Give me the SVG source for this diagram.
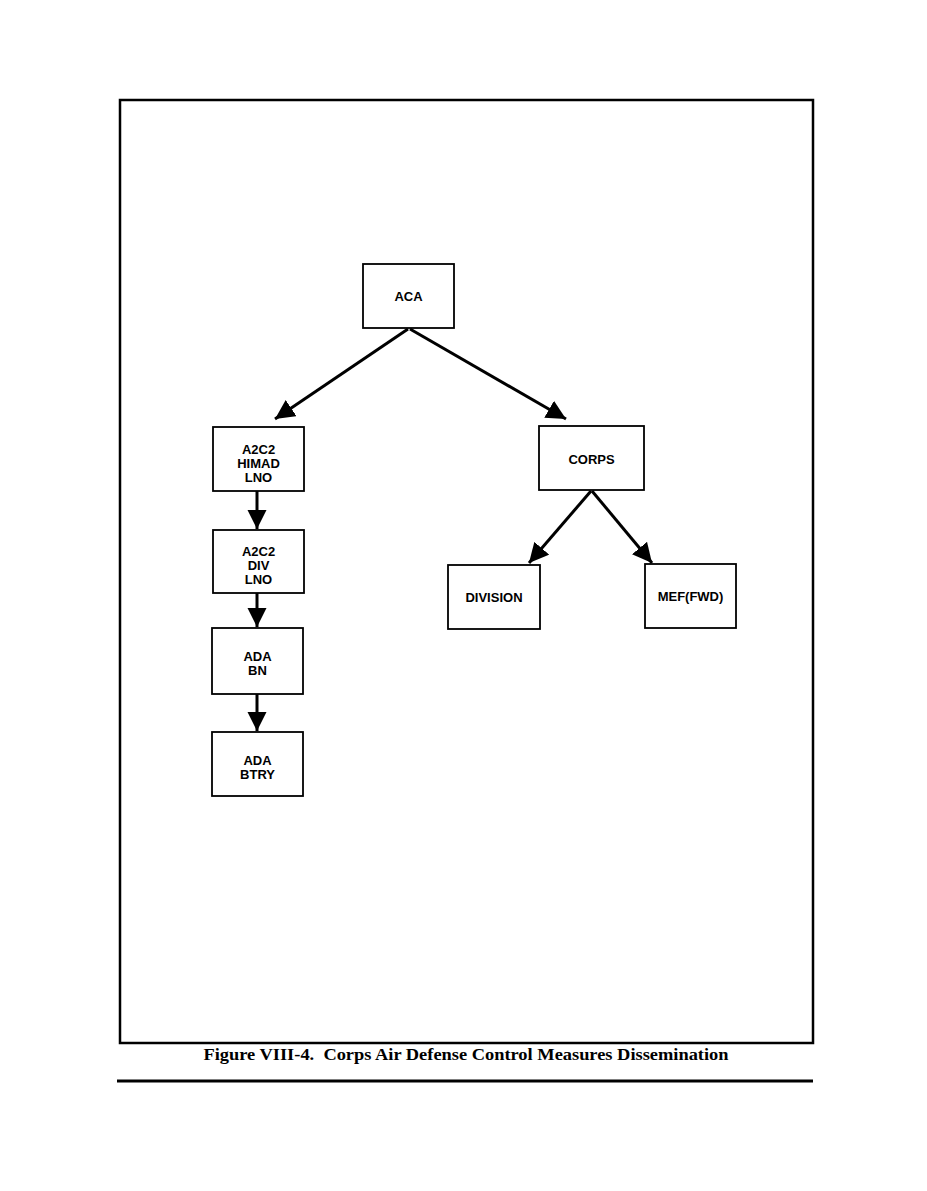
<svg xmlns="http://www.w3.org/2000/svg" width="927" height="1191" viewBox="0 0 927 1191">
<style>
.box{fill:#fff;stroke:#000;stroke-width:1.8}
.lbl{font-family:"Liberation Sans",Arial,sans-serif;font-weight:bold;font-size:13px;text-anchor:middle;fill:#000}
.con{stroke:#000;stroke-width:3;fill:none}
.cap{font-family:"Liberation Serif","Times New Roman",serif;font-weight:bold;font-size:16px;text-anchor:middle;fill:#000}
</style>
<defs>
<marker id="ah" viewBox="0 0 10 10" refX="10" refY="5" markerWidth="6.5" markerHeight="6.5" markerUnits="strokeWidth" orient="auto">
<path d="M0,0 L10,5 L0,10 z" fill="#000"/>
</marker>
</defs>
<rect width="927" height="1191" fill="#fff"/>
<rect x="120" y="100" width="693" height="943" fill="none" stroke="#000" stroke-width="2.5"/>
<g id="connectors">
<line class="con" x1="408" y1="329" x2="275" y2="419" marker-end="url(#ah)"/>
<line class="con" x1="410" y1="329" x2="566" y2="419" marker-end="url(#ah)"/>
<line class="con" x1="591" y1="491" x2="529" y2="563" marker-end="url(#ah)"/>
<line class="con" x1="592" y1="491" x2="652" y2="563" marker-end="url(#ah)"/>
<line class="con" x1="257" y1="491" x2="257" y2="529" marker-end="url(#ah)"/>
<line class="con" x1="257" y1="593" x2="257" y2="627" marker-end="url(#ah)"/>
<line class="con" x1="257" y1="694" x2="257" y2="731" marker-end="url(#ah)"/>
</g>
<g id="aca"><rect class="box" x="363" y="264" width="91" height="64"/><text class="lbl" x="408.5" y="301">ACA</text></g>
<g id="himad"><rect class="box" x="213" y="427" width="91" height="64"/><text class="lbl" x="258.5" y="454">A2C2</text><text class="lbl" x="258.5" y="468">HIMAD</text><text class="lbl" x="258.5" y="482">LNO</text></g>
<g id="corps"><rect class="box" x="539" y="426" width="105" height="64"/><text class="lbl" x="591.5" y="464">CORPS</text></g>
<g id="divlno"><rect class="box" x="213" y="530" width="91" height="63"/><text class="lbl" x="258.5" y="556">A2C2</text><text class="lbl" x="258.5" y="570">DIV</text><text class="lbl" x="258.5" y="584">LNO</text></g>
<g id="adabn"><rect class="box" x="212" y="628" width="91" height="66"/><text class="lbl" x="257.5" y="661">ADA</text><text class="lbl" x="257.5" y="675">BN</text></g>
<g id="adabtry"><rect class="box" x="212" y="732" width="91" height="64"/><text class="lbl" x="257.5" y="765">ADA</text><text class="lbl" x="257.5" y="779">BTRY</text></g>
<g id="division"><rect class="box" x="448" y="565" width="92" height="64"/><text class="lbl" x="494" y="602">DIVISION</text></g>
<g id="mef"><rect class="box" x="645" y="564" width="91" height="64"/><text class="lbl" x="690.5" y="601">MEF(FWD)</text></g>
<text class="cap" x="466" y="1060" textLength="525" lengthAdjust="spacingAndGlyphs" xml:space="preserve">Figure VIII-4.  Corps Air Defense Control Measures Dissemination</text>
<line x1="117" y1="1081" x2="813" y2="1081" stroke="#000" stroke-width="3"/>
</svg>
